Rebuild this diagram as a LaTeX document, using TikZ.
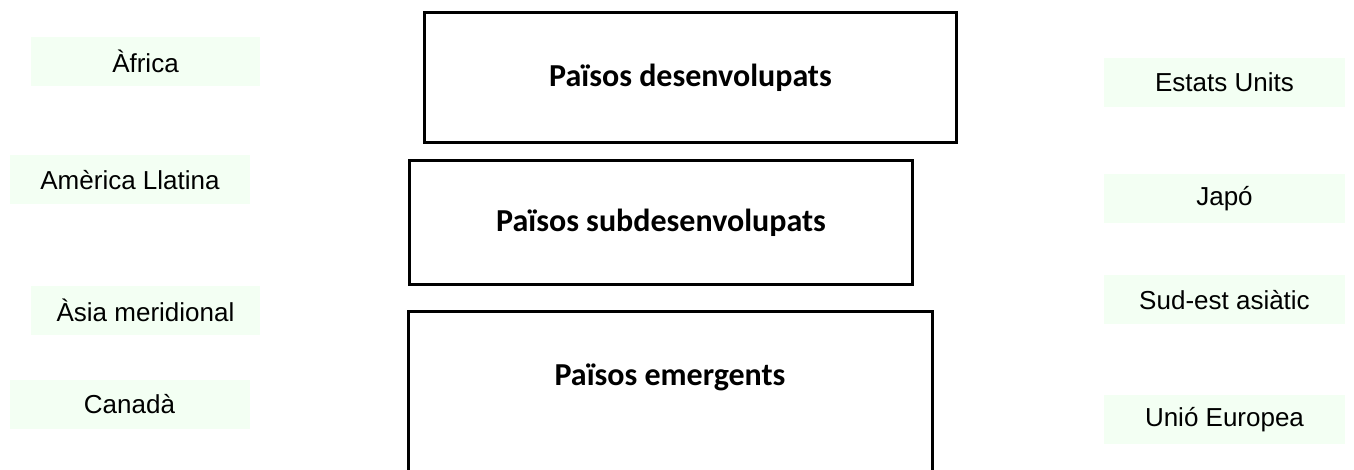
\documentclass[tikz,border=0pt]{standalone}
\usepackage{fontspec}
\setmainfont{Liberation Sans}
\newfontfamily\titlefont{Carlito}
\usepackage{tikz}
\definecolor{palegreen}{RGB}{243,255,243}

\begin{document}
\begin{tikzpicture}[x=0.75pt,y=-0.75pt,
	region/.style={fill=palegreen,inner sep=0pt,minimum height=36.75pt,font=\fontsize{19.5}{23}\selectfont},
	leftregion/.style={region,minimum width=180pt},
	rightregion/.style={region,minimum width=180.75pt},
	group/.style={draw,line width=2.25pt,inner sep=0pt,font=\titlefont\bfseries\fontsize{24}{28}\selectfont}]
	\useasboundingbox (0,0) rectangle (1354,470);
	\coordinate (bottom) at (0,470);
	
	%LEFT BOXES
	\node[leftregion,minimum width=171.75pt] (africa) at (145.5,61.5) {Àfrica};
	\node[leftregion] (america) at (130,180) {Amèrica Llatina};
	\node[leftregion,minimum width=171.75pt] (asia) at (145.5,310.5) {Àsia meridional};
	\node[leftregion] (canada) at (129.5,404.5) {Canadà};
	
	%RIGHT BOXES
	\node[rightregion] (eeuu) at (1224.5,82.5) {Estats Units};
	\node[rightregion] (japo) at (1224.5,198.5) {Japó};
	\node[rightregion] (sudest) at (1224.5,300) {Sud-est asiàtic};
	\node[rightregion] (ue) at (1224.5,420) {Unió Europea};
	
	%MIDDLE BOXES
	\node[group,minimum width=399pt,minimum height=97.5pt] (desenv) at (690.5,77.5) {Països desenvolupats};
	\node[group,minimum width=377.25pt,minimum height=93pt] (subdesenv) at (661,222.5) {Països subdesenvolupats};
	\node[group,draw=none,minimum width=390.75pt,minimum height=96.75pt,anchor=north] (emerg) at (670,311.5) {Països emergents};
	\draw[line width=2.25pt] (emerg.north west |- bottom)--(emerg.north west)--(emerg.north east)--(emerg.north east |- bottom);
\end{tikzpicture}
\end{document}
